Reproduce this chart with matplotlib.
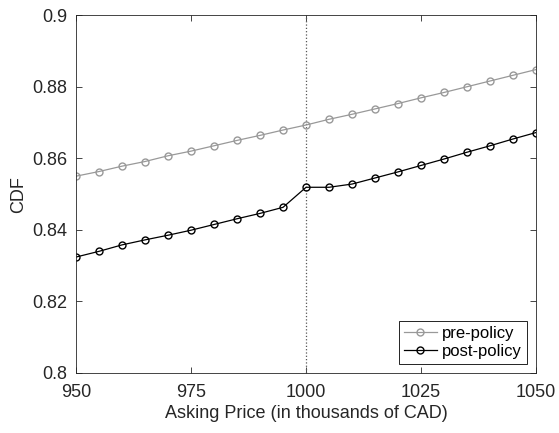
import matplotlib
matplotlib.use("Agg")
from matplotlib import pyplot as plt

plt.rcParams['font.family'] = ['Liberation Sans', 'DejaVu Sans']

price = [950, 955, 960, 965, 970, 975, 980, 985, 990, 995, 1000,
         1005, 1010, 1015, 1020, 1025, 1030, 1035, 1040, 1045, 1050]
pre_policy = [0.8550, 0.8563, 0.8578, 0.8591, 0.8607, 0.8620, 0.8635, 0.8650,
              0.8664, 0.8679, 0.8693, 0.8709, 0.8723, 0.8738, 0.8753, 0.8769,
              0.8784, 0.8800, 0.8816, 0.8832, 0.8848]
post_policy = [0.8324, 0.8340, 0.8358, 0.8372, 0.8385, 0.8399, 0.8415, 0.8431,
               0.8446, 0.8463, 0.8519, 0.8519, 0.8528, 0.8545, 0.8562, 0.8580,
               0.8598, 0.8617, 0.8635, 0.8654, 0.8672]
xticks = [950, 975, 1000, 1025, 1050]
yticks = [0.8, 0.82, 0.84, 0.86, 0.88, 0.9]
ytick_labels = ['0.8', '0.82', '0.84', '0.86', '0.88', '0.9']

fig = plt.figure(figsize=(5.59, 4.33), dpi=100)
ax = fig.add_axes([0.136, 0.1386, 0.823, 0.8264])

ax.axvline(1000, color='#555555', linestyle=':', linewidth=0.9)
ax.plot(price, pre_policy, color='#999999', marker='o', markersize=5,
        markerfacecolor='none', linewidth=0.9, label='pre-policy')
ax.plot(price, post_policy, color='black', marker='o', markersize=5,
        markerfacecolor='none', linewidth=0.9, label='post-policy')

ax.set_xlim(950, 1050)
ax.set_ylim(0.8, 0.9)
ax.set_xticks(xticks)
ax.set_yticks(yticks)
ax.set_yticklabels(ytick_labels)
ax.tick_params(direction='in', top=True, right=True, labelsize=13,
               color='#262626', labelcolor='#262626', length=4, width=0.6)
ax.tick_params(axis='x', pad=8)
ax.tick_params(axis='y', pad=6)
for s in ax.spines.values():
    s.set_color('#262626')
    s.set_linewidth(0.6)

ax.set_xlabel('Asking Price (in thousands of CAD)', fontsize=13, color='#262626', labelpad=3)
ax.set_ylabel('CDF', fontsize=13, color='#262626', labelpad=4)

leg = ax.legend(loc='lower right', fontsize=12, fancybox=False, framealpha=1,
                edgecolor='black', borderpad=0.3, handlelength=2.0,
                handletextpad=0.3, labelspacing=0.15, borderaxespad=0.55)
leg.get_frame().set_linewidth(0.6)

fig.savefig('out.png', dpi=100)
